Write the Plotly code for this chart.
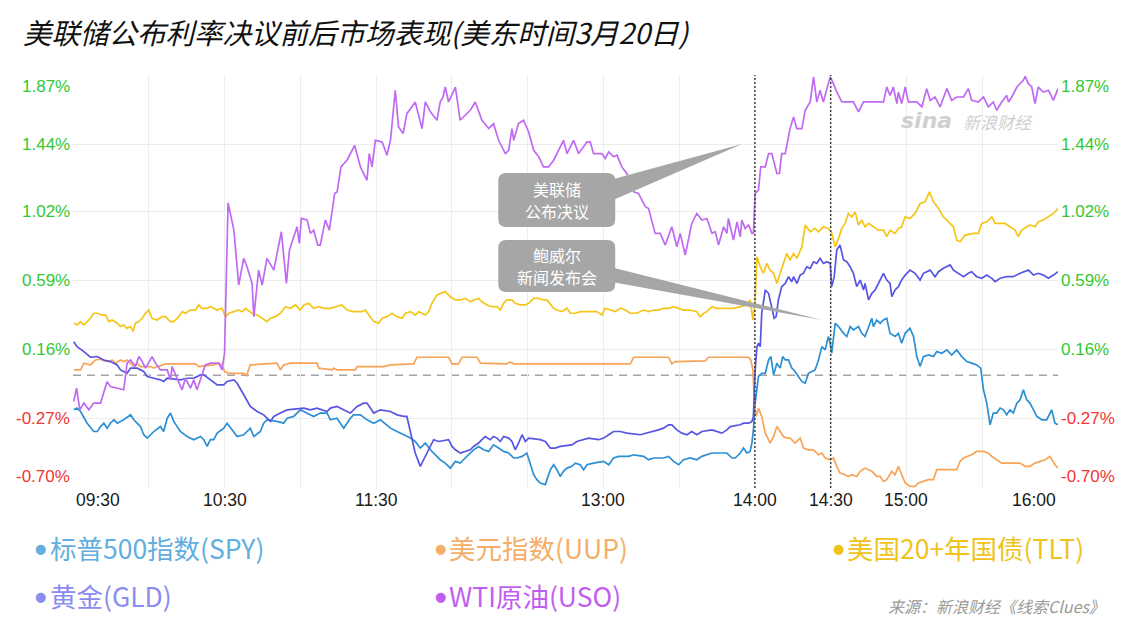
import plotly.graph_objects as go

# ---------------- data (minutes after 09:30, % change) ----------------
SPY_POINTS = [(0.3,-0.215),(1.6,-0.204),(3.0,-0.225),(5.6,-0.298),(8.2,-0.350),(9.6,-0.350),(10.9,-0.319),(12.2,-0.298),(13.5,-0.329),(14.8,-0.298),(16.2,-0.277),(17.5,-0.298),(20.1,-0.277),(22.8,-0.246),(24.1,-0.277),(26.7,-0.319),(28.0,-0.370),(29.4,-0.391),(32.0,-0.350),(34.6,-0.319),(35.9,-0.350),(37.3,-0.267),(38.6,-0.235),(39.9,-0.287),(42.5,-0.350),(45.2,-0.381),(47.8,-0.401),(50.5,-0.381),(51.8,-0.401),(53.1,-0.443),(54.4,-0.401),(55.7,-0.401),(57.1,-0.360),(59.7,-0.329),(61.0,-0.298),(63.7,-0.350),(65.0,-0.381),(67.6,-0.370),(70.2,-0.329),(71.6,-0.381),(74.2,-0.350),(75.5,-0.298),(76.8,-0.277),(80.8,-0.287),(83.4,-0.298),(84.8,-0.267),(87.4,-0.256),(90.0,-0.215),(92.7,-0.235),(95.3,-0.256),(97.9,-0.235),(100.6,-0.235),(101.9,-0.277),(104.5,-0.267),(107.2,-0.329),(109.8,-0.267),(111.1,-0.246),(113.8,-0.246),(116.4,-0.277),(119.1,-0.298),(121.7,-0.277),(125.7,-0.329),(128.3,-0.350),(130.9,-0.370),
(133.6,-0.391),(135.5,-0.412),(137.5,-0.453),(139.5,-0.422),(141.5,-0.464),(143.5,-0.495),(145.4,-0.526),(147.4,-0.547),(149.4,-0.578),(151.4,-0.536),(153.3,-0.547),(155.3,-0.515),(157.3,-0.484),(158.6,-0.464),(160.6,-0.443),(162.6,-0.464),(164.6,-0.474),(166.5,-0.433),(168.5,-0.453),(170.5,-0.474),(172.5,-0.484),(174.5,-0.515),(175.8,-0.515),(177.8,-0.505),(179.7,-0.484),(181.1,-0.547),(182.4,-0.619),(183.7,-0.650),(185.0,-0.671),(187.0,-0.681),(189.0,-0.588),(190.3,-0.557),(191.6,-0.588),(192.9,-0.630),(194.2,-0.598),(195.6,-0.578),(197.5,-0.567),(198.9,-0.547),(200.8,-0.557),(202.2,-0.588),(203.5,-0.557),(206.1,-0.547),(210.1,-0.536),(212.1,-0.557),(214.0,-0.515),(216.0,-0.505),(220.0,-0.505),(222.0,-0.495),(225.9,-0.505),(227.9,-0.526),(229.9,-0.515),(233.8,-0.515),(235.8,-0.505),(237.8,-0.536),(239.8,-0.557),(241.7,-0.526),(244.4,-0.515),(247.0,-0.526),(249.0,-0.505),(253.0,-0.484),(258.9,-0.484),(260.9,-0.515),(262.2,-0.515),(264.2,-0.484),
(265.5,-0.453),(266.8,-0.484),(268.1,-0.474),(268.8,-0.422),(269.4,-0.339),(270.1,-0.173),(270.8,-0.090),(271.4,-0.007),(272.7,0.013),(274.1,0.013),(275.4,0.096),(276.3,0.117),(277.4,0.003),(278.7,0.076),(280.0,0.045),(281.0,0.117),(282.0,0.096),(283.3,0.096),(284.6,0.045),(285.9,0.024),(287.2,-0.007),(288.6,-0.038),(289.9,-0.049),(291.2,0.013),(292.5,0.024),(293.8,0.034),(295.2,0.096),(296.5,0.179),(297.8,0.159),(299.1,0.242),(299.8,0.200),(300.4,0.138),(301.8,0.325),(303.1,0.304),(305.1,0.262),(306.4,0.242),(307.7,0.304),(309.0,0.283),(311.0,0.304),(312.3,0.262),(313.6,0.242),(315.0,0.304),(316.3,0.356),(316.9,0.304),(318.2,0.345),(319.6,0.325),(320.9,0.345),(322.2,0.356),(323.5,0.262),(325.5,0.242),(326.8,0.262),(328.1,0.200),(329.5,0.262),(331.4,0.293),(332.8,0.242),(334.1,0.117),(335.4,0.055),(336.7,0.117),(338.7,0.127),(340.7,0.117),(342.0,0.148),(344.0,0.138),(346.0,0.159),(347.9,0.127),(349.9,0.159),(351.9,0.117),(353.9,0.086),(355.8,0.076),(357.8,0.065),(359.4,0.045),(360.5,-0.090),(361.8,-0.173),(363.1,-0.308),(364.4,-0.235),(365.7,-0.235),(367.1,-0.204),(368.4,-0.215),(369.7,-0.246),(371.0,-0.215),(372.3,-0.235),(373.7,-0.173),(375.0,-0.152),(376.3,-0.090),(377.6,-0.152),(378.9,-0.173),(380.3,-0.215),(381.6,-0.256),(383.6,-0.277),(385.5,-0.277),(387.5,-0.215),(388.8,-0.298),(390.0,-0.308)]

UUP_POINTS = [(0.3,0.034),(3.0,0.034),(4.3,0.076),(6.9,0.065),(8.9,0.096),(10.9,0.101),(12.2,0.092),(14.2,0.086),(15.5,0.096),(16.8,0.076),(18.8,0.096),(20.1,0.086),(21.4,0.096),(22.8,0.076),(24.1,0.055),(25.4,0.076),(26.7,0.055),(30.7,0.055),(32.0,0.045),(33.3,0.055),(34.6,0.059),(36.6,0.072),(48.5,0.072),(49.8,0.055),(53.8,0.059),(55.7,0.065),(57.7,0.076),(59.0,0.065),(60.0,0.024),(61.7,0.013),(67.6,0.013),(68.7,-0.003),(70.2,0.065),(80.8,0.076),(82.1,0.034),(83.4,0.065),(86.1,0.076),(96.6,0.076),(97.3,0.045),(102.6,0.034),(103.2,0.045),(104.5,0.034),(111.8,0.034),(112.5,0.055),(123.0,0.055),(125.7,0.065),(134.9,0.072),(136.2,0.113),(148.7,0.113),(150.1,0.072),(152.7,0.072),(154.0,0.113),(160.0,0.113),(161.3,0.076),(171.8,0.072),(173.1,0.084),(174.5,0.072),(220.6,0.072),(222.0,0.113),(235.8,0.113),(237.1,0.072),(238.4,0.086),(250.3,0.090),(251.6,0.113),(267.5,0.113),(268.4,0.096),(269.2,0.034),(269.8,-0.173),(270.5,-0.256),(271.4,-0.204),(272.7,-0.256),(274.1,-0.360),(275.4,-0.401),(276.0,-0.422),(277.4,-0.381),(278.7,-0.319),(280.0,-0.350),(281.3,-0.381),(282.6,-0.391),(283.9,-0.391),(285.9,-0.422),(287.9,-0.391),(289.2,-0.453),(291.2,-0.464),(293.2,-0.464),(295.2,-0.495),(296.5,-0.484),(297.8,-0.515),(299.8,-0.526),(301.1,-0.515),(302.4,-0.567),(303.7,-0.609),(305.7,-0.619),(307.0,-0.630),(308.4,-0.619),(310.3,-0.630),(311.7,-0.598),(313.6,-0.578),(315.0,-0.588),(316.3,-0.598),(318.2,-0.630),(319.6,-0.630),(320.9,-0.661),(322.2,-0.650),(324.2,-0.598),(325.5,-0.619),(326.8,-0.567),(328.1,-0.619),(329.5,-0.671),(331.4,-0.692),(333.4,-0.692),(334.7,-0.671),(336.7,-0.661),(338.7,-0.650),(340.7,-0.650),(342.0,-0.588),(349.9,-0.588),(351.2,-0.536),(352.6,-0.515),(354.5,-0.505),(355.8,-0.495),(357.8,-0.474),(360.5,-0.474),(362.4,-0.484),(363.8,-0.505),(365.7,-0.526),(367.7,-0.547),(375.0,-0.547),(377.0,-0.567),(378.9,-0.567),(380.9,-0.547),(382.9,-0.536),(384.9,-0.526),(386.8,-0.505),(388.8,-0.557),(390.0,-0.578)]

TLT_POINTS = [(0.3,0.325),(1.6,0.314),(3.0,0.335),(4.3,0.314),(5.6,0.335),(6.9,0.356),(8.2,0.387),(9.6,0.387),(11.5,0.376),(12.9,0.376),(14.2,0.335),(15.5,0.345),(17.5,0.325),(18.8,0.304),(20.1,0.314),(21.4,0.293),(22.8,0.304),(23.8,0.273),(24.7,0.325),(26.1,0.335),(27.4,0.356),(28.7,0.387),(30.0,0.407),(31.3,0.356),(33.3,0.345),(35.3,0.366),(36.6,0.366),(38.6,0.335),(39.9,0.335),(41.9,0.366),(43.2,0.397),(44.5,0.387),(46.5,0.407),(48.5,0.407),(49.8,0.439),(51.1,0.418),(53.1,0.418),(54.4,0.428),(57.1,0.407),(59.0,0.418),(60.4,0.366),(61.7,0.387),(63.7,0.397),(65.6,0.407),(67.0,0.397),(68.3,0.418),(70.9,0.387),(72.9,0.376),(74.9,0.356),(76.8,0.335),(78.2,0.356),(80.1,0.366),(82.1,0.387),(84.1,0.428),(86.1,0.418),(88.1,0.439),(90.0,0.407),(91.4,0.439),(93.3,0.449),(95.3,0.418),(97.3,0.428),(99.3,0.418),(101.9,0.418),(104.5,0.428),(106.5,0.439),(108.5,0.407),(111.1,0.397),(114.4,0.397),(115.8,0.407),(117.1,0.376),(119.1,0.335),(121.0,0.325),(122.4,0.356),(124.3,0.366),(126.3,0.387),(128.3,0.366),(130.3,0.356),(131.6,0.387),(133.6,0.397),(135.5,0.376),(136.9,0.397),(138.2,0.387),(139.5,0.376),(140.8,0.397),(142.1,0.449),(144.1,0.501),(146.1,0.511),(147.4,0.522),(149.4,0.490),(151.4,0.470),(153.3,0.470),(155.3,0.480),(157.3,0.459),(158.6,0.470),(160.6,0.480),(161.9,0.459),(163.9,0.439),(165.9,0.428),(167.9,0.428),(169.2,0.407),(170.5,0.449),(171.8,0.470),(173.8,0.470),(175.1,0.449),(177.1,0.439),(179.1,0.439),(180.4,0.449),(182.4,0.480),(184.4,0.480),(186.3,0.470),(187.6,0.470),(189.0,0.439),(190.3,0.418),(191.6,0.407),(193.6,0.397),(195.6,0.418),(196.9,0.387),(198.9,0.387),(200.8,0.397),(207.4,0.397),(209.4,0.376),(210.7,0.418),(212.7,0.407),(214.7,0.397),(216.7,0.418),(218.7,0.407),(220.6,0.387),(223.3,0.387),(225.9,0.407),(227.9,0.397),(229.9,0.407),(231.8,0.407),(233.8,0.418),(235.8,0.418),(237.8,0.428),(239.8,0.418),(241.7,0.407),(244.4,0.407),(247.0,0.397),(248.3,0.366),(249.7,0.387),(251.0,0.397),(253.0,0.428),(254.9,0.418),(258.9,0.418),(261.5,0.418),(264.2,0.428),(266.8,0.439),(268.1,0.470),(269.2,0.345),(270.1,0.470),(270.8,0.739),(272.1,0.677),(273.4,0.636),(274.7,0.698),(276.0,0.656),(277.4,0.636),(278.7,0.573),(280.0,0.636),(281.3,0.698),(282.6,0.760),(283.9,0.719),(285.3,0.760),(286.6,0.729),(288.6,0.802),(289.9,0.937),(291.9,0.895),(293.8,0.916),(295.2,0.895),(297.1,0.926),(299.1,0.916),(300.4,0.885),(301.8,0.802),(303.1,0.854),(304.4,0.916),(305.7,0.947),(307.0,1.009),(308.4,0.988),(309.7,1.019),(311.0,0.937),(312.3,0.968),(313.6,0.926),(315.0,0.947),(316.9,0.926),(318.9,0.905),(320.9,0.905),(322.2,0.864),(323.5,0.905),(325.5,0.885),(326.8,0.916),(328.1,0.926),(329.5,0.988),(331.4,0.978),(333.4,1.009),(335.4,1.071),(337.4,1.082),(339.1,1.144),(340.7,1.082),(342.7,1.040),(344.6,0.988),(346.6,0.957),(348.6,0.926),(349.9,0.843),(351.2,0.833),(353.2,0.874),(356.5,0.885),(358.5,0.885),(359.8,0.947),(361.8,0.957),(363.8,0.988),(365.1,0.947),(367.1,0.947),(369.0,0.947),(371.0,0.926),(373.0,0.905),(374.3,0.864),(375.6,0.905),(377.6,0.926),(378.9,0.937),(380.9,0.926),(382.2,0.957),(384.2,0.968),(386.2,0.988),(388.2,1.009),(390.0,1.040)]

GLD_POINTS = [(0.3,0.210),(1.6,0.179),(4.3,0.148),(6.9,0.113),(9.6,0.117),(12.2,0.096),(14.8,0.086),(17.5,0.065),(18.8,0.034),(21.4,0.013),(22.8,0.045),(25.4,0.045),(28.0,0.024),(29.4,-0.007),(32.0,-0.018),(34.6,-0.028),(35.9,-0.038),(37.3,-0.018),(42.5,-0.028),(45.2,-0.018),(47.8,-0.018),(50.5,0.003),(51.8,0.003),(54.4,-0.028),(57.1,-0.059),(59.7,-0.059),(61.0,-0.038),(63.7,-0.028),(65.0,-0.049),(67.6,-0.121),(70.2,-0.194),(72.9,-0.225),(75.5,-0.246),(78.2,-0.287),(79.5,-0.256),(82.1,-0.235),(84.8,-0.215),(91.4,-0.204),(94.0,-0.215),(96.6,-0.204),(100.6,-0.225),(101.9,-0.204),(104.5,-0.194),(108.5,-0.225),(109.8,-0.235),(112.5,-0.194),(115.1,-0.173),(116.4,-0.173),(119.1,-0.235),(121.7,-0.215),(125.7,-0.225),(128.3,-0.246),(130.9,-0.256),(132.2,-0.256),(133.6,-0.360),(135.5,-0.484),(137.5,-0.567),(139.5,-0.505),(141.5,-0.443),(142.8,-0.401),(144.8,-0.412),(148.7,-0.401),(150.1,-0.443),(151.4,-0.464),(153.3,-0.484),(155.3,-0.474),(157.3,-0.464),(158.6,-0.443),(160.6,-0.422),(161.9,-0.401),(163.2,-0.381),(165.2,-0.401),(166.5,-0.381),(167.9,-0.391),(169.2,-0.412),(170.5,-0.381),(172.5,-0.391),(173.8,-0.412),(175.1,-0.464),(176.4,-0.422),(177.8,-0.370),(179.1,-0.412),(180.4,-0.391),(185.0,-0.401),(187.0,-0.412),(189.0,-0.453),(190.9,-0.453),(192.9,-0.443),(197.5,-0.433),(199.5,-0.412),(204.1,-0.391),(208.1,-0.401),(210.1,-0.391),(212.1,-0.370),(214.0,-0.350),(216.7,-0.350),(219.3,-0.360),(224.6,-0.370),(227.2,-0.360),(231.8,-0.340),(233.8,-0.329),(235.8,-0.308),(237.1,-0.308),(239.1,-0.340),(241.1,-0.360),(243.1,-0.370),(245.0,-0.350),(247.0,-0.370),(249.0,-0.350),(253.0,-0.340),(256.9,-0.360),(258.9,-0.340),(260.2,-0.319),(264.2,-0.308),(265.5,-0.298),(267.5,-0.298),(268.8,-0.287),(269.4,-0.256),(270.1,0.034),(270.8,0.179),(271.4,0.200),(272.1,0.179),(272.7,0.387),(273.4,0.470),(274.1,0.532),(275.4,0.511),(276.7,0.407),(277.6,0.356),(278.4,0.366),(279.3,0.470),(280.6,0.553),(282.0,0.573),(283.3,0.615),(284.6,0.584),(285.3,0.615),(286.6,0.573),(287.9,0.625),(289.2,0.636),(290.5,0.677),(291.9,0.667),(293.2,0.708),(294.5,0.698),(295.8,0.729),(297.1,0.698),(298.5,0.708),(299.8,0.698),(300.4,0.553),(301.4,0.615),(302.4,0.781),(303.7,0.812),(305.1,0.719),(306.4,0.708),(307.7,0.677),(309.0,0.636),(310.3,0.553),(311.7,0.594),(313.0,0.532),(313.6,0.573),(315.0,0.470),(316.3,0.511),(317.6,0.532),(318.9,0.573),(320.9,0.636),(322.2,0.594),(323.5,0.573),(324.2,0.490),(325.5,0.532),(326.8,0.553),(328.1,0.594),(329.5,0.625),(331.4,0.656),(333.4,0.636),(335.4,0.594),(336.7,0.636),(339.4,0.656),(341.3,0.615),(342.7,0.646),(344.6,0.667),(347.3,0.688),(348.6,0.656),(350.6,0.636),(352.6,0.615),(354.5,0.636),(355.8,0.646),(357.8,0.615),(359.8,0.605),(361.8,0.625),(363.8,0.605),(365.1,0.584),(367.1,0.605),(369.7,0.615),(372.3,0.615),(375.0,0.636),(377.0,0.646),(378.3,0.656),(380.3,0.625),(382.2,0.636),(384.2,0.625),(386.2,0.605),(388.2,0.625),(390.0,0.646)]

USO_POINTS = [(0.3,-0.163),(1.4,-0.080),(2.7,-0.215),(4.3,-0.173),(6.3,-0.215),(8.2,-0.173),(10.9,-0.173),(13.5,-0.039),(14.8,-0.070),(17.5,-0.080),(20.1,-0.090),(21.4,0.076),(22.8,0.096),(24.7,0.055),(26.1,0.117),(27.4,0.086),(28.7,0.045),(31.3,0.117),(32.7,0.076),(34.6,0.034),(37.3,0.034),(38.6,-0.028),(39.2,0.055),(43.2,-0.090),(44.5,-0.018),(46.5,-0.080),(47.8,-0.028),(49.1,-0.090),(50.2,-0.039),(51.1,0.013),(52.4,0.065),(54.4,0.076),(57.7,0.076),(59.0,0.034),(60.0,0.138),(61.4,1.075),(63.7,0.905),(65.6,0.563),(67.6,0.729),(68.9,0.677),(70.9,0.573),(71.6,0.366),(73.5,0.656),(74.9,0.563),(76.8,0.729),(79.5,0.656),(80.1,0.708),(82.5,0.895),(84.5,0.573),(85.7,0.781),(87.4,0.864),(88.7,0.926),(89.6,0.822),(90.4,0.978),(92.7,0.968),(94.0,0.885),(95.3,0.905),(96.9,0.812),(97.9,0.812),(99.9,0.968),(101.5,0.905),(103.6,1.134),(104.6,1.144),(106.1,1.299),(108.5,1.341),(111.5,1.434),(113.8,1.299),(116.4,1.216),(117.3,1.382),(118.4,1.299),(119.7,1.465),(122.4,1.455),(124.3,1.372),(125.7,1.465),(127.6,1.777),(128.9,1.548),(130.7,1.507),(132.2,1.631),(135.5,1.704),(138.2,1.538),(139.5,1.704),(141.5,1.642),(144.1,1.590),(145.4,1.704),(146.5,1.735),(147.4,1.797),(148.7,1.704),(151.4,1.797),(153.3,1.590),(155.3,1.621),(157.3,1.652),(159.3,1.704),(161.9,1.590),(164.6,1.538),(166.5,1.569),(168.5,1.465),(171.2,1.382),(172.5,1.403),(173.8,1.538),(174.5,1.465),(176.4,1.569),(178.4,1.590),(180.4,1.517),(182.4,1.403),(184.4,1.362),(186.3,1.299),(188.3,1.299),(190.3,1.341),(192.3,1.403),(194.2,1.465),(195.6,1.382),(198.2,1.465),(200.2,1.382),(203.5,1.455),(204.8,1.455),(206.1,1.382),(209.4,1.382),(210.7,1.351),(212.1,1.393),(214.0,1.362),(215.4,1.372),(217.3,1.299),(219.3,1.258),(222.0,1.144),(223.9,1.134),(226.6,1.051),(227.9,1.040),(230.5,0.885),(232.5,0.885),(234.5,0.812),(237.1,0.926),(239.1,0.802),(240.4,0.885),(242.4,0.750),(245.0,0.947),(247.0,1.009),(249.0,0.968),(251.0,0.978),(253.0,0.885),(254.3,0.895),(255.6,0.812),(257.6,0.926),(258.9,0.885),(259.5,0.978),(261.5,0.843),(262.9,0.957),(264.2,0.864),(264.8,0.968),(266.1,0.916),(267.5,0.937),(268.8,0.885),(269.4,0.885),(270.1,1.134),(271.4,1.154),(272.3,1.299),(274.1,1.299),(275.4,1.382),(276.7,1.382),(278.7,1.258),(279.7,1.258),(280.6,1.382),(282.0,1.382),(283.9,1.538),(285.3,1.611),(286.6,1.538),(288.6,1.538),(289.9,1.652),(291.9,1.704),(293.2,1.860),(294.5,1.704),(295.8,1.777),(297.1,1.704),(298.5,1.787),(299.8,1.860),(301.1,1.818),(302.4,1.766),(304.4,1.704),(309.0,1.704),(311.0,1.642),(313.0,1.704),(320.9,1.704),(322.2,1.797),(323.5,1.745),(324.8,1.797),(326.2,1.694),(326.8,1.766),(328.1,1.694),(329.5,1.797),(330.8,1.704),(334.1,1.704),(336.1,1.673),(338.0,1.787),(339.4,1.714),(341.3,1.735),(343.3,1.673),(346.0,1.787),(347.9,1.714),(349.9,1.735),(352.6,1.735),(354.5,1.787),(355.8,1.714),(358.5,1.704),(360.5,1.735),(362.4,1.673),(364.4,1.704),(365.7,1.652),(367.7,1.704),(369.7,1.745),(370.4,1.704),(371.7,1.735),(373.7,1.797),(376.3,1.839),(377.0,1.864),(378.3,1.818),(379.6,1.797),(380.9,1.694),(382.2,1.797),(384.2,1.766),(386.2,1.777),(388.2,1.714),(390.0,1.787)]

SERIES_NAMES = ["标普500指数(SPY)", "美元指数(UUP)", "美国20+年国债(TLT)", "黄金(GLD)", "WTI原油(USO)"]
LINE_COLORS = ["#2b8fd3", "#f7a456", "#f5c518", "#5656e2", "#bf6af2"]
LEGEND_COLORS = ["#62aee0", "#f5ae6a", "#f0c31a", "#8a8cef", "#c05ef0"]

Y_TICKS = [-0.70, -0.27, 0.16, 0.59, 1.02, 1.44, 1.87]
Y_LABELS = ["-0.70%", "-0.27%", "0.16%", "0.59%", "1.02%", "1.44%", "1.87%"]
X_LABELS = ["09:30", "10:30", "11:30", "13:00", "14:00", "14:30", "15:00", "16:00"]
GRID_MINUTES = [30, 60, 90, 120, 150, 180, 210, 240, 270, 300, 330, 360]
EVENT_MINUTES = [270, 300]   # 14:00 decision, 14:30 press conference

TITLE = "美联储公布利率决议前后市场表现(美东时间3月20日)"
CALLOUTS = [["美联储", "公布决议"], ["鲍威尔", "新闻发布会"]]
SOURCE = "来源：新浪财经《线索Clues》"

# ---------------- layout geometry (pixels) ----------------
W, H = 1138, 626
L, R, T, B = 72.5, 1058, 75, 488
CJK = "Noto Sans CJK SC"
NUM = "Liberation Sans, Arial, sans-serif"


def px(x, y):
    return (x - L) / (R - L), (B - y) / (B - T)


def minutes(label):
    h, m = label.split(":")
    return int(h) * 60 + int(m) - 570


fig = go.Figure()
for pts, color in zip([SPY_POINTS, UUP_POINTS, TLT_POINTS, GLD_POINTS, USO_POINTS], LINE_COLORS):
    xs = [p[0] for p in pts]
    ys = [p[1] for p in pts]
    fig.add_trace(go.Scatter(x=xs, y=ys, mode="lines", line=dict(color=color, width=1.7),
                             hoverinfo="skip", showlegend=False))

shapes = []
shapes.append(dict(type="line", xref="paper", yref="y", x0=0, x1=1, y0=0, y1=0,
                   line=dict(color="#a3a3a3", width=1.5, dash="8px,6px"), layer="below"))
for em in EVENT_MINUTES:
    shapes.append(dict(type="line", xref="x", yref="paper", x0=em, x1=em, y0=0, y1=1,
                       line=dict(color="#404040", width=1.5, dash="2px,2px"), layer="above"))


def rrect(x0, y0, x1, y1, r):
    pts = [("M", x0 + r, y0), ("L", x1 - r, y0), ("Q", x1, y0, x1, y0 + r), ("L", x1, y1 - r),
           ("Q", x1, y1, x1 - r, y1), ("L", x0 + r, y1), ("Q", x0, y1, x0, y1 - r),
           ("L", x0, y0 + r), ("Q", x0, y0, x0 + r, y0)]
    s = ""
    for p in pts:
        coords = p[1:]
        parts = []
        for i in range(0, len(coords), 2):
            a, b = px(coords[i], coords[i + 1])
            parts.append(f"{a:.5f},{b:.5f}")
        s += p[0] + " " + " ".join(parts) + " "
    return s + "Z"


def poly(points):
    s = ""
    for i, (x, y) in enumerate(points):
        a, b = px(x, y)
        s += ("M " if i == 0 else "L ") + f"{a:.5f},{b:.5f} "
    return s + "Z"


BOXES = [(498, 173, 615, 227), (498, 240, 615, 292)]
WEDGES = [[(742, 144), (606, 181), (606, 203)], [(822, 320), (606, 266), (606, 281)]]
GRAY = "#a6a6a6"
for (bx0, by0, bx1, by1), wedge in zip(BOXES, WEDGES):
    shapes.append(dict(type="path", xref="paper", yref="paper", path=poly(wedge),
                       fillcolor=GRAY, line=dict(width=0), layer="above"))
    shapes.append(dict(type="path", xref="paper", yref="paper", path=rrect(bx0, by0, bx1, by1, 8),
                       fillcolor=GRAY, line=dict(width=0), layer="above"))

ann = []
tx, ty = px(20, 31)
ann.append(dict(text="<i>" + TITLE + "</i>", x=tx, y=ty, xref="paper", yref="paper",
                xanchor="left", yanchor="middle", showarrow=False,
                font=dict(family=CJK, size=28.5, color="#111111")))

for v, lab in zip(Y_TICKS, Y_LABELS):
    col = "#33c833" if v > 0 else "#f23535"
    ya = "middle"
    if v == Y_TICKS[-1]:
        ya = "top"
    elif v == Y_TICKS[0]:
        ya = "bottom"
    for side in ("l", "r"):
        ann.append(dict(text=lab, x=0 if side == "l" else 1, y=v, xref="paper", yref="y",
                        xanchor="right" if side == "l" else "left", yanchor=ya,
                        xshift=-1 if side == "l" else 1, showarrow=False,
                        font=dict(family=NUM, size=17, color=col)))

for i, lab in enumerate(X_LABELS):
    xa = "center"
    xs = 0
    if i == 0:
        xa, xs = "left", 1
    elif i == len(X_LABELS) - 1:
        xa, xs = "right", 0
    ann.append(dict(text=lab, x=minutes(lab), y=0, xref="x", yref="paper", xanchor=xa,
                    yanchor="top", xshift=xs, yshift=0, showarrow=False,
                    font=dict(family=NUM, size=17.5, color="#1a1a1a")))

# callout texts: one annotation per line, 22 px apart
for (bx0, by0, bx1, by1), lines in zip(BOXES, CALLOUTS):
    cx = (bx0 + bx1) / 2
    cy = (by0 + by1) / 2
    for j, line in enumerate(lines):
        a, b = px(cx, cy - 11 + 22 * j)
        ann.append(dict(text=line, x=a, y=b, xref="paper", yref="paper", xanchor="center",
                        yanchor="middle", showarrow=False, borderpad=0,
                        font=dict(family=CJK, size=16, color="#ffffff")))

# watermark
a, b = px(926, 120)
ann.append(dict(text="<b><i>sina</i></b>", x=a, y=b, xref="paper", yref="paper", xanchor="center",
                yanchor="middle", showarrow=False, font=dict(family="DejaVu Sans", size=22, color="#d0d0d0")))
a, b = px(998, 121)
ann.append(dict(text="<i>新浪财经</i>", x=a, y=b, xref="paper", yref="paper", xanchor="center",
                yanchor="middle", showarrow=False, font=dict(family=CJK, size=17, color="#d0d0d0")))

LEG_POS = [(40, 547), (440, 547), (838, 547), (40, 595), (440, 595)]
for name, col, (lx, ly) in zip(SERIES_NAMES, LEGEND_COLORS, LEG_POS):
    a, b = px(lx, ly + 1)
    ann.append(dict(text="●", x=a, y=b, xref="paper", yref="paper", xanchor="center", yanchor="middle",
                    showarrow=False, font=dict(family="DejaVu Sans", size=13, color=col)))
    a, b = px(lx + 7, ly)
    ann.append(dict(text=name, x=a, y=b, xref="paper", yref="paper", xanchor="left", yanchor="middle",
                    showarrow=False, font=dict(family=CJK, size=26.5, color=col)))

a, b = px(1107, 606)
ann.append(dict(text="<i>" + SOURCE + "</i>", x=a, y=b, xref="paper", yref="paper", xanchor="right",
                yanchor="middle", showarrow=False, font=dict(family=CJK, size=16, color="#9a9a9a")))

fig.update_layout(
    width=W, height=H, autosize=False,
    margin=dict(l=L, r=W - R, t=T, b=H - B, pad=0),
    paper_bgcolor="white", plot_bgcolor="white",
    xaxis=dict(range=[0, 390], tickvals=GRID_MINUTES, showticklabels=False, showgrid=True,
               gridcolor="#ececec", gridwidth=1, zeroline=False, showline=False, ticks="", fixedrange=True),
    yaxis=dict(range=[-0.702, 1.872], tickvals=Y_TICKS, showticklabels=False, showgrid=True,
               gridcolor="#ececec", gridwidth=1, zeroline=False, showline=False, ticks="", fixedrange=True),
    shapes=shapes, annotations=ann, showlegend=False,
)

fig.write_html("out.html", config={"displayModeBar": False},
               post_script="document.body.style.margin='0px';document.body.style.overflow='hidden';")
